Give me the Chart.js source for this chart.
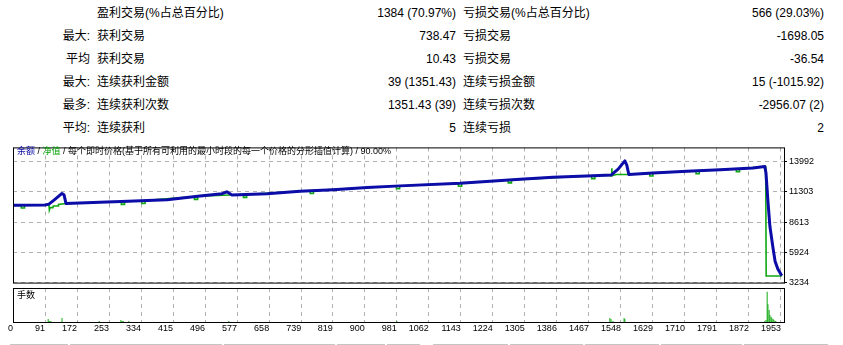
<!DOCTYPE html>
<html>
<head>
<meta charset="utf-8">
<script src="https://cdn.jsdelivr.net/npm/chart.js@4.4.1/dist/chart.umd.min.js"></script>
<style>
  body { margin: 0; background: #fff; }
  #page { position: relative; width: 843px; height: 345px; overflow: hidden; background: #fff;
          font-family: "Liberation Sans", "Noto Sans CJK SC", sans-serif; color: #000; }
  .cell { position: absolute; font-size: 12px; line-height: 14px; white-space: nowrap; }
  .small { position: absolute; font-size: 9px; line-height: 11px; white-space: nowrap; }
  canvas { position: absolute; left: 0; }
  .rule { position: absolute; top: 344px; height: 1px; background: #c4c4c4; }
</style>
</head>
<body>
<div id="page">
  <div id="stats"></div>
  <canvas id="mainChart" width="843" height="150" style="top:140px"></canvas>
  <canvas id="volChart" width="843" height="58" style="top:287px"></canvas>
  <div class="small" style="left:17px;top:146px"><span style="color:#0c0ca8">余额</span> / <span style="color:#00a000">净值</span> / 每个即时价格(基于所有可利用的最小时段的每一个价格的分形插值计算) / 90.00%</div>
  <div class="small" style="left:17px;top:290px">手数</div>
</div>
<script>
// stats table
const statPrefix = ['', '最大:', '平均', '最大:', '最多:', '平均:'];
const statWinLabel = ['盈利交易(%占总百分比)', '获利交易', '获利交易', '连续获利金额', '连续获利次数', '连续获利'];
const statWinValue = ['1384 (70.97%)', '738.47', '10.43', '39 (1351.43)', '1351.43 (39)', '5'];
const statLossLabel = ['亏损交易(%占总百分比)', '亏损交易', '亏损交易', '连续亏损金额', '连续亏损次数', '连续亏损'];
const statLossValue = ['566 (29.03%)', '-1698.05', '-36.54', '15 (-1015.92)', '-2956.07 (2)', '2'];

// x axis (trade number)
const xTickLabels = ['0', '91', '172', '253', '334', '415', '496', '577', '658', '739', '819', '900',
  '981', '1062', '1143', '1224', '1305', '1386', '1467', '1548', '1629', '1710', '1791', '1872', '1953'];
const X_MIN = 10;
const X_MAX = 1960.6;

// y axis (money)
const yTicks = [3234, 5924, 8613, 11303, 13992];
const Y_MIN = 3234;
const Y_MAX = 15252;

// balance line
const balanceTrades = [10, 91, 101, 116, 134, 139, 144, 230, 301, 400, 483, 539, 551, 564, 653, 736, 820,
  906, 989, 1141, 1293, 1376, 1477, 1523, 1541, 1558, 1563, 1568, 1629, 1715, 1799, 1882, 1912,
  1915, 1920, 1925, 1933, 1938, 1945, 1955];
const balance = [10101, 10126, 10210, 10630, 11160, 11050, 10270, 10378, 10462, 10605, 10941, 11135, 11303,
  11025, 11135, 11362, 11496, 11698, 11832, 12059, 12421, 12589, 12732, 12790, 13320, 14051, 13656,
  12841, 12984, 13127, 13261, 13429, 13547, 12984, 10462, 8218, 6260, 5142, 4436, 3840];

// equity line
const equityTrades = [10, 31, 31.1, 39, 39.1, 91,
  101, 102, 104, 111, 112, 124, 125, 144,
  284, 284.1, 292, 292.1,
  336, 336.1, 344, 344.1,
  469, 469.1, 477, 477.1,
  593, 593.1, 601, 601.1,
  762, 762.1, 770, 770.1,
  980, 980.1, 988, 988.1,
  1137, 1137.1, 1145, 1145.1,
  1263, 1263.1, 1271, 1271.1,
  1474, 1474.1, 1482, 1482.1,
  1518, 1524, 1525, 1526, 1537, 1568,
  1621, 1621.1, 1629, 1629.1,
  1738, 1738.1, 1746, 1746.1,
  1840, 1840.1, 1848, 1848.1,
  1912, 1914, 1914.5, 1915.5, 1955];
const equity = [10101, 10107, 9860, 9860, 10108, 10126,
  10180, 9690, 9900, 9900, 10040, 10040, 10180, 10270,
  10441, 10190, 10190, 10451,
  10512, 10260, 10260, 10524,
  10874, 10630, 10630, 10917,
  11061, 10810, 10810, 11071,
  11403, 11150, 11150, 11416,
  11817, 11570, 11570, 11830,
  12053, 11800, 11800, 12069,
  12350, 12100, 12100, 12369,
  12728, 12480, 12480, 12738,
  12784, 12706, 13400, 12760, 12841, 12841,
  12964, 12715, 12715, 12984,
  13164, 12915, 12915, 13176,
  13344, 13095, 13095, 13361,
  13547, 13547, 11807, 3822, 3822];

// lots per trade (only the visible ones)
const volTrades = [99, 102, 106, 134, 228, 283, 286, 289, 303, 556, 981, 1520, 1523, 1528, 1556, 1558,
  1912, 1915, 1918, 1920, 1923, 1925, 1928, 1930, 1933, 1935, 1938, 1940];
const volLots = [0.26, 0.09, 0.09, 0.35, 0.09, 0.18, 0.09, 0.09, 0.09, 0.09, 0.09, 0.35, 0.26, 0.09, 0.35, 0.26,
  0.09, 0.18, 2.67, 1.56, 1.06, 0.62, 0.47, 0.33, 0.26, 0.18, 0.09, 0.09];
const VOL_MAX = 3;

// build the stats table
const stats = document.getElementById('stats');
function addCell(text, css) {
    const d = document.createElement('div');
    d.className = 'cell';
    d.textContent = text;
    Object.assign(d.style, css);
    stats.appendChild(d);
}
for (let i = 0; i < statPrefix.length; i++) {
    const top = (6.3 + i * 22.9) + 'px';
    addCell(statPrefix[i], { right: '753px', top: top });
    addCell(statWinLabel[i], { left: '97px', top: top });
    addCell(statWinValue[i], { right: '387px', top: top });
    addCell(statLossLabel[i], { left: '463px', top: top });
    addCell(statLossValue[i], { right: '19px', top: top });
}

// bottom table border
const ruleSegments = [[10, 68], [70, 222], [224, 335], [337, 385], [387, 420], [433, 508],
  [510, 583], [585, 659], [661, 742], [744, 828]];
ruleSegments.forEach(function(s) {
    const d = document.createElement('div');
    d.className = 'rule';
    d.style.left = s[0] + 'px';
    d.style.width = (s[1] - s[0]) + 'px';
    document.getElementById('page').appendChild(d);
});

// black frame round the plot area
const framePlugin = {
    id: 'frame',
    afterDraw(chart) {
        const a = chart.chartArea;
        const c = chart.ctx;
        c.save();
        c.setLineDash([]);
        c.strokeStyle = '#000';
        c.lineWidth = 1;
        c.strokeRect(a.left + 0.5, a.top + 0.5, a.right - a.left, a.bottom - a.top);
        c.restore();
    }
};

const gridColor = '#b0b0b0';
const axisFont = { family: '"Liberation Sans", sans-serif', size: 9 };

function xScale(showLabels) {
    return {
        type: 'linear',
        min: X_MIN,
        max: X_MAX,
        offset: false,
        afterBuildTicks: function(axis) {
            axis.ticks = xTickLabels.map(function(l) { return { value: Math.max(Number(l), X_MIN) }; });
        },
        afterFit: function(axis) { axis.height = showLabels ? 23 : 0; },
        grid: { display: true, drawOnChartArea: true, color: gridColor, lineWidth: 1, drawTicks: false, offset: false },
        border: { display: false, dash: [4, 4] },
        ticks: {
            display: showLabels,
            autoSkip: false,
            maxRotation: 0,
            align: 'end',
            padding: 1,
            color: '#000',
            font: axisFont,
            callback: function(v, i) { return xTickLabels[i]; }
        }
    };
}

new Chart(document.getElementById('mainChart'), {
    type: 'line',
    data: {
        datasets: [{
            label: '余额',
            data: balanceTrades.map(function(t, i) { return { x: t, y: balance[i] }; }),
            borderColor: '#0c0ca8',
            borderWidth: 3,
            borderJoinStyle: 'round',
            pointRadius: 0,
            tension: 0,
            order: 0
        }, {
            label: '净值',
            data: equityTrades.map(function(t, i) { return { x: t, y: equity[i] }; }),
            borderColor: '#10a810',
            borderWidth: 1.6,
            pointRadius: 0,
            tension: 0,
            order: 1
        }]
    },
    options: {
        responsive: false,
        animation: false,
        devicePixelRatio: 1,
        layout: { padding: { left: 13, top: 3, right: 0, bottom: 4 } },
        plugins: { legend: { display: false }, tooltip: { enabled: false } },
        scales: {
            x: xScale(false),
            y: {
                position: 'right',
                min: Y_MIN,
                max: Y_MAX,
                afterBuildTicks: function(axis) {
                    axis.ticks = yTicks.map(function(v) { return { value: v }; });
                },
                afterFit: function(axis) { axis.width = 59; },
                grid: { display: true, drawOnChartArea: true, color: gridColor, lineWidth: 1,
                        tickLength: 3, tickColor: '#000', tickBorderDash: [] },
                border: { display: false, dash: [4, 4] },
                ticks: { color: '#000', padding: 2, font: axisFont, callback: function(v) { return String(v); } }
            }
        }
    },
    plugins: [framePlugin]
});

new Chart(document.getElementById('volChart'), {
    type: 'bar',
    data: {
        datasets: [{
            label: '手数',
            data: volTrades.map(function(t, i) { return { x: t, y: volLots[i] }; }),
            backgroundColor: '#10a810',
            borderWidth: 0,
            barThickness: 1,
            inflateAmount: 0
        }]
    },
    options: {
        responsive: false,
        animation: false,
        devicePixelRatio: 1,
        layout: { padding: { left: 13, top: 1, right: 0, bottom: 0 } },
        plugins: { legend: { display: false }, tooltip: { enabled: false } },
        scales: {
            x: xScale(true),
            y: {
                position: 'right',
                min: 0,
                max: VOL_MAX,
                afterFit: function(axis) { axis.width = 59; },
                grid: { display: false },
                border: { display: false },
                ticks: { display: false }
            }
        }
    },
    plugins: [framePlugin]
});
</script>
</body>
</html>
